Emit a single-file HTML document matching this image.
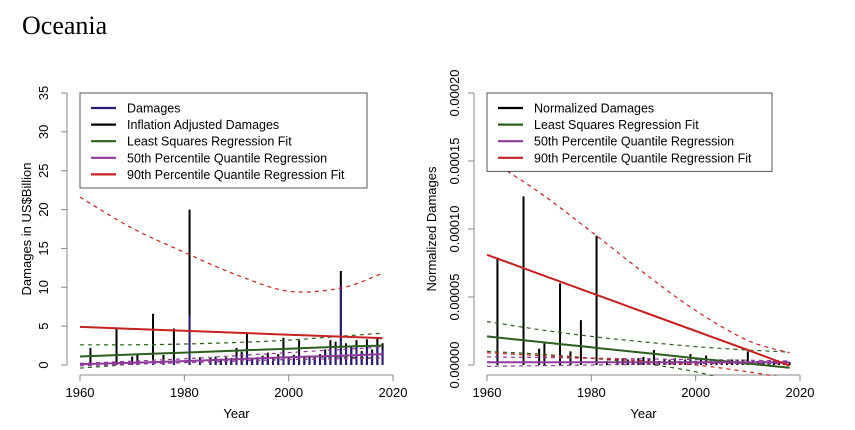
<!DOCTYPE html>
<html><head><meta charset="utf-8">
<style>
body{margin:0;background:#fff;}
svg{display:block;font-family:"Liberation Sans",sans-serif;}
</style></head>
<body>
<svg id="c" width="855" height="430" viewBox="0 0 855 430">
<text x="22" y="34" font-family="Liberation Serif, serif" font-size="26">Oceania</text>
</svg>
<script>
// ---- data ----
const years      = [1962,1967,1970,1971,1974,1976,1978,1981,1983,1985,1986,1987,1988,1989,1990,1991,1992,1993,1994,1995,1996,1997,1998,1999,2000,2001,2002,2003,2004,2005,2006,2007,2008,2009,2010,2011,2012,2013,2014,2015,2016,2017,2018];
const damages    = [0.1,0.3,0.2,0.3,0.7,0.4,0.8,6.4,0.5,0.6,0.9,0.5,0.6,0.7,1.2,0.8,1.5,0.6,0.7,0.8,1.0,0.6,1.0,1.4,0.8,1.0,1.4,0.7,0.9,0.8,1.2,1.6,2.0,2.3,10.2,2.5,2.2,2.3,1.6,2.2,1.7,2.5,2.0];
const adjusted   = [2.2,4.8,1.1,1.5,6.6,1.3,4.7,20.0,1.0,0.9,1.1,0.8,1.0,0.9,2.2,1.7,4.2,0.9,1.0,1.2,1.6,0.9,1.4,3.5,1.0,1.3,3.2,1.0,1.2,1.0,1.4,2.0,3.2,3.0,12.1,2.8,2.5,3.2,1.8,3.3,2.0,3.4,2.8];
const normalized = [7.9e-5,12.4e-5,1.2e-5,1.6e-5,6.0e-5,1.0e-5,3.3e-5,9.5e-5,0.3e-5,0.5e-5,0.5e-5,0.4e-5,0.3e-5,0.5e-5,0.6e-5,0.5e-5,1.1e-5,0.3e-5,0.4e-5,0.4e-5,0.5e-5,0.3e-5,0.4e-5,0.8e-5,0.3e-5,0.4e-5,0.7e-5,0.3e-5,0.4e-5,0.3e-5,0.3e-5,0.4e-5,0.4e-5,0.4e-5,1.0e-5,0.3e-5,0.3e-5,0.3e-5,0.2e-5,0.3e-5,0.2e-5,0.3e-5,0.2e-5];
const fitYears   = [1960,1970,1980,1990,2000,2010,2018];
const lsLeft     = [1.1,1.35,1.6,1.85,2.1,2.35,2.5];
const lsLeftHi   = [2.6,2.6,2.7,2.9,3.2,3.7,4.1];
const lsLeftLo   = [-0.4,0.1,0.5,0.8,1.0,1.0,0.9];
const q50Left    = [0.1,0.3,0.5,0.75,1.0,1.2,1.4];
const q50LeftHi  = [0.2,0.5,0.8,1.2,1.6,2.0,2.3];
const q50LeftLo  = [-0.1,0.1,0.3,0.5,0.7,0.8,0.9];
const q90Left    = [4.9,4.65,4.4,4.15,3.9,3.65,3.45];
const q90LeftHi  = [21.6,17.6,14.5,11.6,9.5,9.9,11.8];
const lsRight    = [2.1e-5,1.7e-5,1.3e-5,0.9e-5,0.5e-5,0.1e-5,-0.2e-5];
const lsRightHi  = [3.2e-5,2.6e-5,2.1e-5,1.7e-5,1.35e-5,1.1e-5,0.95e-5];
const lsRightLo  = [1.0e-5,0.8e-5,0.5e-5,0.1e-5,-0.5e-5,-1.5e-5,-2.5e-5];
const q50Right   = [0.2e-5,0.2e-5,0.2e-5,0.2e-5,0.2e-5,0.2e-5,0.2e-5];
const q50RightHi = [0.6e-5,0.55e-5,0.5e-5,0.45e-5,0.4e-5,0.35e-5,0.3e-5];
const q50RightLo = [-0.1e-5,-0.05e-5,0,0.05e-5,0.1e-5,0.1e-5,0.1e-5];
const q90Right   = [8.1e-5,6.7e-5,5.3e-5,3.9e-5,2.5e-5,1.1e-5,-0.05e-5];
const q90RightHi = [15.2e-5,12.7e-5,9.8e-5,6.8e-5,4.0e-5,1.8e-5,0.9e-5];
const q90RightLo = [0.9e-5,0.7e-5,0.5e-5,0.3e-5,0.0,-0.5e-5,-1.0e-5];
const xTicks = [1960,1980,2000,2020];
const yTicksL = [0,5,10,15,20,25,30,35];
const yTicksR = [0,0.00005,0.0001,0.00015,0.0002];
const yLabR = ["0.00000","0.00005","0.00010","0.00015","0.00020"];

const NS="http://www.w3.org/2000/svg";
const svg=document.getElementById('c');
function el(tag,attrs,parent){const e=document.createElementNS(NS,tag);for(const k in attrs)e.setAttribute(k,attrs[k]);(parent||svg).appendChild(e);return e;}
const COL={blue:"#2b1a78",black:"#000",green:"#2e5e1e",purple:"#8e3a9a",red:"#c62121"};

function panel(id,x0,x1,yTop,yMax,ticks,tickLab,ylabel,ylabX,tickLabX){
  const xs=v=>x0+(v-1960)/60*(x1-x0);
  const ys=v=>365-(v/yMax)*(365-yTop);
  const g=el('g',{});
  
  
  const cp=el('clipPath',{id:id+'clip'},g);
  el('rect',{x:xs(1957.6),y:ys(yMax*1.04),width:xs(2022.4)-xs(1957.6),height:ys(-yMax*0.04)-ys(yMax*1.04)},cp);
  const xa=el('g',{},g);
  
  
  el('line',{x1:xs(1960),x2:xs(2020),y1:375,y2:375,stroke:"#888","stroke-width":1},xa);
  xTicks.forEach(t=>{el('line',{x1:xs(t),x2:xs(t),y1:375,y2:381,stroke:"#888"},xa);
    const tx=el('text',{x:xs(t),y:397,"text-anchor":"middle","font-size":13},xa);tx.textContent=t;
    
    });
  const xt=el('text',{x:(xs(1960)+xs(2020))/2,y:418,"text-anchor":"middle","font-size":13},xa);xt.textContent="Year";
  
  
  const ya=el('g',{},g);
  
  
  const axX=x0-13;
  el('line',{x1:axX,x2:axX,y1:ys(0),y2:ys(yMax),stroke:"#888"},ya);
  ticks.forEach((t,i)=>{el('line',{x1:axX-6,x2:axX,y1:ys(t),y2:ys(t),stroke:"#888"},ya);
    const tx=el('text',{x:tickLabX,y:ys(t),"text-anchor":"middle","font-size":13,transform:`rotate(-90 ${tickLabX} ${ys(t)})`},ya);tx.textContent=tickLab[i];
    
    });
  const yt=el('text',{x:ylabX,y:229,"text-anchor":"middle","font-size":13,transform:`rotate(-90 ${ylabX} 229)`},ya);yt.textContent=ylabel;
  
  
  const plot=el('g',{"clip-path":`url(#${id}clip)`},g);
  return {xs,ys,plot};
}
function bars(p,vals,color,w,name){
  years.forEach((yr,i)=>{const b=el('line',{x1:p.xs(yr),x2:p.xs(yr),y1:p.ys(0),y2:p.ys(vals[i]),stroke:color,"stroke-width":w},p.plot);
    
    });
}
function curve(p,vals,color,dash,name){
  const pts=fitYears.map((yr,i)=>[p.xs(yr),p.ys(vals[i])]);
  let d='M'+pts[0][0].toFixed(1)+','+pts[0][1].toFixed(1);
  for(let i=0;i<pts.length-1;i++){
    const p0=pts[Math.max(0,i-1)],p1=pts[i],p2=pts[i+1],p3=pts[Math.min(pts.length-1,i+2)];
    const c1=[p1[0]+(p2[0]-p0[0])/6,p1[1]+(p2[1]-p0[1])/6];
    const c2=[p2[0]-(p3[0]-p1[0])/6,p2[1]-(p3[1]-p1[1])/6];
    d+=` C${c1[0].toFixed(1)},${c1[1].toFixed(1)} ${c2[0].toFixed(1)},${c2[1].toFixed(1)} ${p2[0].toFixed(1)},${p2[1].toFixed(1)}`;
  }
  const a={d,fill:"none",stroke:color,"stroke-width":dash?1.2:2};
  if(dash)a["stroke-dasharray"]="4,4";
  const e=el('path',a,p.plot);
  
  
}
function legend(x,y,w,items,name){
  const g=el('g',{});
  
  
  el('rect',{x,y,width:w,height:items.length*16.6+12,fill:"#fff",stroke:"#555"},g);
  items.forEach((it,i)=>{const cy=y+15+i*16.6;
    el('line',{x1:x+11,x2:x+36,y1:cy,y2:cy,stroke:it[1],"stroke-width":2.2},g);
    const t=el('text',{x:x+47,y:cy+4.5,"font-size":12.5},g);t.textContent=it[0];
    
    });
}
const L=panel('left',80,393,93,35,yTicksL,yTicksL.map(String),"Damages in US$Billion",31,48);
bars(L,adjusted,COL.black,2,'adjusted-damage-bar');
bars(L,damages,COL.blue,2,'damage-bar');
curve(L,lsLeftHi,COL.green,1,'ls-upper-band');curve(L,lsLeftLo,COL.green,1,'ls-lower-band');
curve(L,q50LeftHi,COL.purple,1,'q50-upper-band');curve(L,q50LeftLo,COL.purple,1,'q50-lower-band');
curve(L,q90LeftHi,COL.red,1,'q90-upper-band');
curve(L,lsLeft,COL.green,0,'ls-fit');curve(L,q50Left,COL.purple,0,'q50-fit');curve(L,q90Left,COL.red,0,'q90-fit');
legend(80,93,287,[["Damages",COL.blue],["Inflation Adjusted Damages",COL.black],["Least Squares Regression Fit",COL.green],["50th Percentile Quantile Regression",COL.purple],["90th Percentile Quantile Regression Fit",COL.red]],'left-legend');
const R=panel('right',487,800,93,0.0002,yTicksR,yLabR,"Normalized Damages",436,459);
bars(R,normalized,COL.black,2,'normalized-damage-bar');
curve(R,lsRightHi,COL.green,1,'ls-upper-band');curve(R,lsRightLo,COL.green,1,'ls-lower-band');
curve(R,q50RightHi,COL.purple,1,'q50-upper-band');curve(R,q50RightLo,COL.purple,1,'q50-lower-band');
curve(R,q90RightHi,COL.red,1,'q90-upper-band');curve(R,q90RightLo,COL.red,1,'q90-lower-band');
curve(R,lsRight,COL.green,0,'ls-fit');curve(R,q50Right,COL.purple,0,'q50-fit');curve(R,q90Right,COL.red,0,'q90-fit');
legend(487,93,285,[["Normalized Damages",COL.black],["Least Squares Regression Fit",COL.green],["50th Percentile Quantile Regression",COL.purple],["90th Percentile Quantile Regression Fit",COL.red]],'right-legend');
</script>
</body></html>
